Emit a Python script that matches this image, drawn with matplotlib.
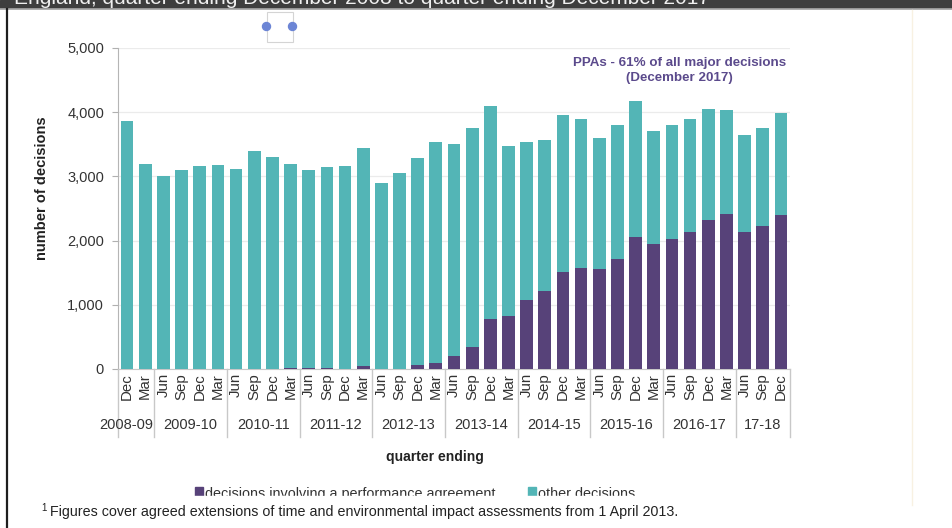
import matplotlib.pyplot as plt
from matplotlib.patches import Rectangle, Circle
from matplotlib.lines import Line2D
import matplotlib.transforms as mtransforms

plt.rcParams['font.family'] = ['Liberation Sans', 'DejaVu Sans']

W, H = 953, 528

# quarter ending, Dec 2008 .. Dec 2017
months = ["Dec", "Mar",
          "Jun", "Sep", "Dec", "Mar",
          "Jun", "Sep", "Dec", "Mar",
          "Jun", "Sep", "Dec", "Mar",
          "Jun", "Sep", "Dec", "Mar",
          "Jun", "Sep", "Dec", "Mar",
          "Jun", "Sep", "Dec", "Mar",
          "Jun", "Sep", "Dec", "Mar",
          "Jun", "Sep", "Dec", "Mar",
          "Jun", "Sep", "Dec"]
years = ["2008-09", "2009-10", "2010-11", "2011-12", "2012-13",
         "2013-14", "2014-15", "2015-16", "2016-17", "17-18"]
quarters_per_year = [2, 4, 4, 4, 4, 4, 4, 4, 4, 3]

ppa = [0, 0, 0, 0, 0, 0, 0, 0, 0, 20,
       20, 20, 0, 40, 0, 0, 70, 90, 210, 340,
       780, 830, 1070, 1210, 1510, 1580, 1550, 1720, 2060, 1950,
       2020, 2140, 2320, 2420, 2140, 2220, 2400]
other = [3860, 3200, 3000, 3100, 3160, 3180, 3120, 3400, 3300, 3180,
         3080, 3120, 3160, 3410, 2900, 3060, 3210, 3450, 3300, 3420,
         3310, 2650, 2470, 2350, 2440, 2310, 2050, 2080, 2110, 1750,
         1780, 1750, 1730, 1610, 1500, 1540, 1580]

purple = "#574279"
teal = "#53b5b6"
txt = "#333333"


def fx(x):
    return x / W


def fy(y):
    return 1 - y / H


fig = plt.figure(figsize=(W / 100, H / 100), dpi=100)
fig.patch.set_facecolor("white")

ax = fig.add_axes([fx(118), fy(369), (790 - 118) / W, (369 - 48) / H])
x = list(range(len(months)))
ax.bar(x, ppa, width=0.7, color=purple, zorder=3)
ax.bar(x, other, width=0.7, bottom=ppa, color=teal, zorder=3)

ax.set_xlim(-0.5, len(months) - 0.5)
ax.set_ylim(0, 5000)
ax.set_yticks([0, 1000, 2000, 3000, 4000, 5000])
ax.set_yticklabels(["0", "1,000", "2,000", "3,000", "4,000", "5,000"])
ax.tick_params(axis="y", length=4, color="#b0b0b0", labelsize=10.5,
               labelcolor=txt, pad=6)
ax.set_xticks(x)
ax.set_xticklabels(months, rotation=90, fontsize=10.8, color=txt)
ax.tick_params(axis="x", length=0, pad=3)
ax.grid(axis="y", color="#ebebeb", linewidth=0.9, zorder=0)
for s in ["top", "right"]:
    ax.spines[s].set_visible(False)
ax.spines["left"].set_color("#b5b5b5")
ax.spines["bottom"].set_color("#c8c8c8")

# year group separators and labels below the axis
trans = mtransforms.blended_transform_factory(ax.transData, ax.transAxes)
sep_bottom = -(437 - 369) / (369 - 48)
year_y = -(425 - 369) / (369 - 48)
start = -0.5
for i, (yr, n) in enumerate(zip(years, quarters_per_year)):
    ax.add_line(Line2D([start, start], [0, sep_bottom], transform=trans,
                       color="#c8c8c8", linewidth=1, clip_on=False))
    if i == 0:
        ax.text(start + n - 0.05, year_y, yr, transform=trans, ha="right",
                va="center", fontsize=10.5, color=txt)
    else:
        ax.text(start + n / 2, year_y, yr, transform=trans, ha="center",
                va="center", fontsize=10.5, color=txt)
    start += n
ax.add_line(Line2D([start, start], [0, sep_bottom], transform=trans,
                   color="#c8c8c8", linewidth=1, clip_on=False))

ax.text(0.835, 0.972, "PPAs - 61% of all major decisions\n(December 2017)",
        transform=ax.transAxes, ha="center", va="top", fontsize=9.6,
        fontweight="bold", color="#5b4a8c", linespacing=1.3)

fig.text(fx(42), fy(188), "number of decisions", rotation=90, ha="center",
         va="center", fontsize=10.5, fontweight="bold", color="#222222")
fig.text(fx(435), fy(457), "quarter ending", ha="center", va="center",
         fontsize=10, fontweight="bold", color="#222222")

# legend (lower half hidden in the original)
fig.patches.append(Rectangle((fx(195), fy(496)), 8 / W, 9 / H,
                             transform=fig.transFigure, color=purple,
                             zorder=4))
fig.text(fx(205), fy(498), "decisions involving a performance agreement",
         ha="left", va="baseline", fontsize=10.4, color=txt, zorder=4)
fig.patches.append(Rectangle((fx(528), fy(496)), 8 / W, 9 / H,
                             transform=fig.transFigure, color=teal,
                             zorder=4))
fig.text(fx(538), fy(498), "other decisions", ha="left", va="baseline",
         fontsize=10.4, color=txt, zorder=4)
fig.patches.append(Rectangle((fx(150), fy(506)), 600 / W, 10 / H,
                             transform=fig.transFigure, color="white",
                             zorder=5))

fig.text(fx(41), fy(511), "1", ha="left", va="baseline", fontsize=7,
         color="#222222", zorder=6)
fig.text(fx(50), fy(516),
         "Figures cover agreed extensions of time and environmental impact "
         "assessments from 1 April 2013.",
         ha="left", va="baseline", fontsize=10.3, color="#222222", zorder=6)

# page chrome from the screenshot
fig.patches.append(Rectangle((0, fy(8)), 1, 8 / H, transform=fig.transFigure,
                             color="#3e3e3e", zorder=1))
fig.lines.append(Line2D([0, 1], [fy(9), fy(9)], transform=fig.transFigure,
                        color="#a8a8a8", linewidth=1.2))
fig.text(fx(14), fy(4), "England, quarter ending December 2008 to quarter "
         "ending December 2017", ha="left", va="baseline", fontsize=15,
         color="#f0f0f0", zorder=2)
fig.lines.append(Line2D([fx(6.5), fx(6.5)], [0, fy(9)],
                        transform=fig.transFigure, color="#1e1e1e",
                        linewidth=1.6))
fig.lines.append(Line2D([fx(912), fx(912)], [fy(505), fy(10)],
                        transform=fig.transFigure, color="#f8f1e2",
                        linewidth=1))
fig.patches.append(Rectangle((fx(266.5), fy(41.5)), 26 / W, 29 / H,
                             transform=fig.transFigure, fill=False,
                             edgecolor="#d4d4d4", linewidth=0.8))
for cx in (266.5, 292.5):
    fig.patches.append(Circle((cx, H - 26.5), 4, transform=None,
                              color="#6c85d5"))

fig.savefig("out.png", dpi=100)
